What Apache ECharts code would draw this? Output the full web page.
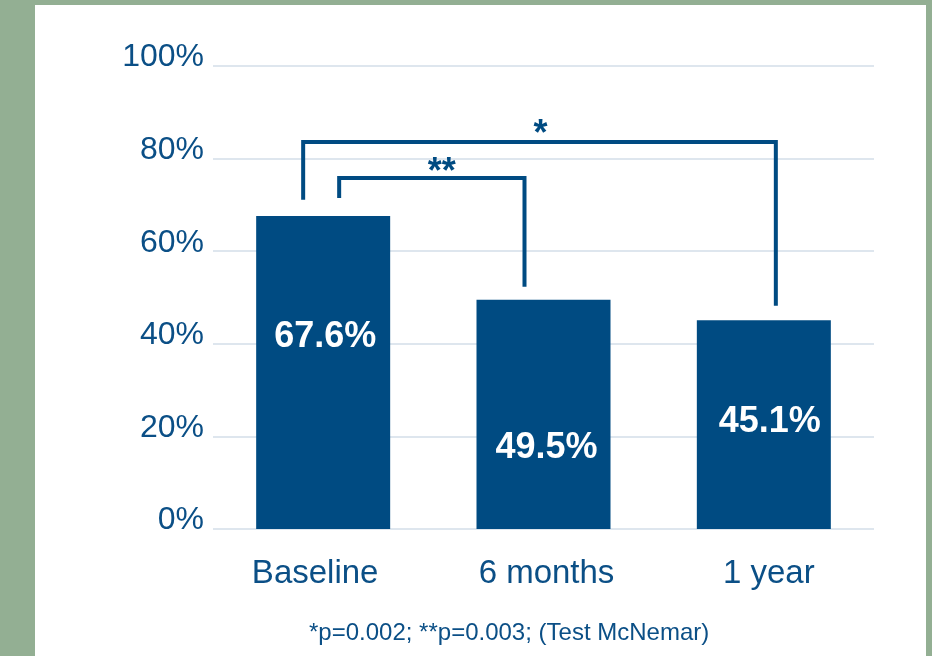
<!DOCTYPE html>
<html>
<head>
<meta charset="utf-8">
<script src="https://cdn.jsdelivr.net/npm/echarts@6/dist/echarts.min.js"></script>
<style>
  html, body { margin: 0; padding: 0; background: #93AF93; }
  #panel { position: absolute; left: 35px; top: 5px; width: 891px; height: 651px; background: #ffffff; }
  #chart { position: absolute; left: 0; top: 0; width: 932px; height: 656px; }
</style>
</head>
<body>
<div id="panel"></div>
<div id="chart"></div>
<script>
// ---- data ----
const categories = ['Baseline', '6 months', '1 year'];
const values = [67.6, 49.5, 45.1];
const yTicks = [0, 20, 40, 60, 80, 100];
const footnote = '*p=0.002; **p=0.003; (Test McNemar)';
// significance brackets: [fromCategory, toCategory, marker]
const brackets = [
  [0, 2, '*'],
  [0, 1, '**']
];

// ---- layout / style (not data) ----
const FONT = 'Liberation Sans, Arial, sans-serif';
const textColor = '#0B4F86';
const barColor = '#004B82';
// per-bar label placement inside the bar: [dx, dyFromTop]
const barLabelLayout = [[2, 121], [3, 148], [6, 102]];
// per-category label horizontal padding [left, right] to nudge labels
const catLabelPad = [[0, 16], [6, 0], [10, 0]];
// bracket geometry: leftBottom, rightBottom, top (value units), x offsets (px), marker dx
const bracketLayout = [
  { leftBottom: 71.1, rightBottom: 48.2, top: 83.6, dxL: -20, dxR: 12, markDx: 1, markDy: -7 },
  { leftBottom: 71.5, rightBottom: 52.3, top: 75.8, dxL: 16, dxR: -19, markDx: 10, markDy: -5 }
];

const chart = echarts.init(document.getElementById('chart'), null, { renderer: 'canvas' });

const option = {
  animation: false,
  backgroundColor: 'transparent',
  textStyle: { fontFamily: FONT },
  grid: { left: 213, right: 58, top: 66, bottom: 127, containLabel: false },
  xAxis: {
    type: 'category',
    data: categories.map((c, i) => ({
      value: c,
      textStyle: { padding: [0, catLabelPad[i][1], 0, catLabelPad[i][0]] }
    })),
    axisLine: { show: false },
    axisTick: { show: false },
    axisLabel: {
      color: textColor,
      fontSize: 33,
      fontFamily: FONT,
      margin: 28
    }
  },
  yAxis: {
    type: 'value',
    min: yTicks[0],
    max: yTicks[yTicks.length - 1],
    interval: yTicks[1] - yTicks[0],
    axisLine: { show: false },
    axisTick: { show: false },
    splitLine: { lineStyle: { color: '#DEE6EE', width: 2 } },
    axisLabel: {
      color: textColor,
      fontSize: 32,
      fontFamily: FONT,
      margin: 9,
      verticalAlign: 'bottom',
      lineHeight: 17,
      formatter: v => v + '%'
    }
  },
  graphic: [{
    type: 'text',
    left: 309,
    top: 621,
    style: {
      text: footnote,
      fill: textColor,
      fontSize: 24,
      fontFamily: FONT
    }
  }],
  series: [
    {
      type: 'bar',
      barWidth: 134,
      data: values.map((v, i) => ({
        value: v,
        label: {
          show: true,
          position: ['50%', barLabelLayout[i][1]],
          offset: [barLabelLayout[i][0], 0],
          align: 'center',
          verticalAlign: 'middle',
          formatter: '{c}%',
          color: '#ffffff',
          fontSize: 36,
          fontWeight: 'bold',
          fontFamily: FONT
        }
      })),
      itemStyle: { color: barColor },
      z: 2
    },
    {
      type: 'custom',
      data: brackets.map((b, i) => [b[0], b[1], i]),
      z: 5,
      renderItem: function (params, api) {
        const idx = api.value(2);
        const b = brackets[idx];
        const L = bracketLayout[idx];
        const xl = api.coord([b[0], 0])[0] + L.dxL;
        const xr = api.coord([b[1], 0])[0] + L.dxR;
        const yl = api.coord([b[0], L.leftBottom])[1];
        const yr = api.coord([b[1], L.rightBottom])[1];
        const yt = api.coord([b[0], L.top])[1];
        return {
          type: 'group',
          children: [
            {
              type: 'polyline',
              shape: { points: [[xl, yl], [xl, yt], [xr, yt], [xr, yr]] },
              style: { stroke: barColor, lineWidth: 4, fill: null, lineJoin: 'miter' }
            },
            {
              type: 'text',
              style: {
                text: b[2],
                x: (xl + xr) / 2 + L.markDx,
                y: yt + L.markDy,
                align: 'center',
                verticalAlign: 'middle',
                fill: barColor,
                fontSize: 36,
                fontWeight: 'bold',
                fontFamily: FONT
              }
            }
          ]
        };
      }
    }
  ]
};
chart.setOption(option);
</script>
</body>
</html>
